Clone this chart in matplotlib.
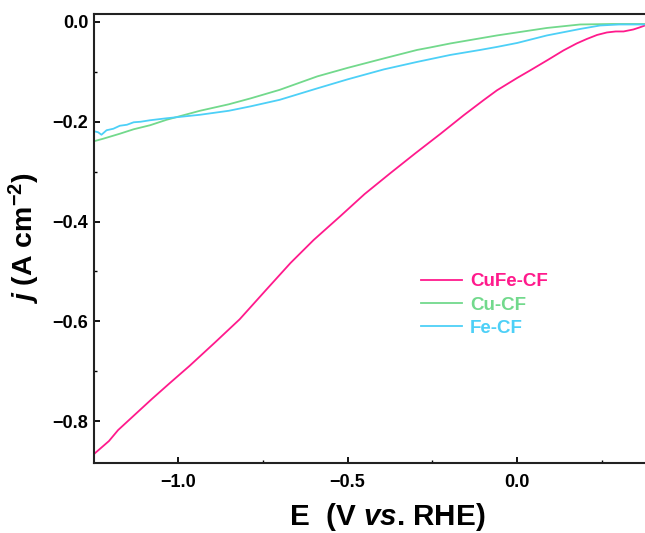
import numpy as np
import matplotlib.pyplot as plt

plt.rcParams['font.family'] = ['Liberation Sans', 'DejaVu Sans']
plt.rcParams['font.weight'] = 'bold'
plt.rcParams['mathtext.fontset'] = 'custom'
plt.rcParams['mathtext.rm'] = 'Liberation Sans:bold'
plt.rcParams['mathtext.it'] = 'Liberation Sans:italic:bold'

# Datos (E en V vs RHE, j en A cm-2)
e_cufe = [-1.247, -1.225, -1.203, -1.176, -1.077, -1.024, -0.965, -0.890, -0.818, -0.740,
          -0.668, -0.600, -0.521, -0.450, -0.374, -0.300, -0.226, -0.158, -0.100, -0.060,
          0.0, 0.038, 0.090, 0.136, 0.175, 0.205, 0.235, 0.264, 0.290, 0.313,
          0.342, 0.360, 0.376]
j_cufe = [-0.866, -0.853, -0.840, -0.818, -0.756, -0.724, -0.689, -0.642, -0.596, -0.537,
          -0.483, -0.437, -0.389, -0.345, -0.303, -0.263, -0.224, -0.187, -0.157, -0.137,
          -0.112, -0.097, -0.076, -0.057, -0.043, -0.034, -0.026, -0.021, -0.019, -0.019,
          -0.015, -0.011, -0.007]

e_cu = [-1.247, -1.22, -1.171, -1.13, -1.082, -1.033, -0.935, -0.85, -0.785, -0.70,
        -0.589, -0.50, -0.393, -0.295, -0.256, -0.197, -0.060, 0.087, 0.185, 0.28,
        0.376]
j_cu = [-0.239, -0.234, -0.224, -0.215, -0.207, -0.196, -0.178, -0.165, -0.153, -0.136,
        -0.109, -0.092, -0.073, -0.056, -0.051, -0.043, -0.027, -0.012, -0.005, -0.004,
        -0.004]

e_fe = [-1.247, -1.235, -1.225, -1.21, -1.19, -1.171, -1.15, -1.13, -1.11, -1.082,
        -1.033, -0.935, -0.85, -0.785, -0.70, -0.589, -0.50, -0.393, -0.295, -0.197,
        -0.109, -0.060, 0.0, 0.087, 0.185, 0.244, 0.30, 0.376]
j_fe = [-0.219, -0.221, -0.226, -0.217, -0.214, -0.208, -0.206, -0.201, -0.200, -0.197,
        -0.193, -0.186, -0.178, -0.169, -0.156, -0.133, -0.115, -0.095, -0.080, -0.066,
        -0.056, -0.050, -0.042, -0.027, -0.014, -0.007, -0.005, -0.005]

nombres = ['CuFe-CF', 'Cu-CF', 'Fe-CF']
colores = ['#FF1A8C', '#72D98C', '#4DD0F7']

fig = plt.figure(figsize=(6.45, 5.33), dpi=100)
ax = fig.add_axes([94 / 645, 1 - 463 / 533, 554 / 645, 449 / 533])

ax.plot(e_cufe, j_cufe, color=colores[0], lw=1.3, label=nombres[0])
ax.plot(e_cu, j_cu, color=colores[1], lw=1.3, label=nombres[1])
ax.plot(e_fe, j_fe, color=colores[2], lw=1.3, label=nombres[2])

ax.set_xlim(-1.247, 0.385)
ax.set_ylim(-0.884, 0.016)
ax.set_xticks([-1.0, -0.5, 0.0])
ax.set_xticks([-0.75, -0.25, 0.25], minor=True)
ax.set_yticks([-0.8, -0.6, -0.4, -0.2, 0.0])
ax.set_yticks([-0.7, -0.5, -0.3, -0.1], minor=True)
ax.xaxis.set_major_formatter(plt.FuncFormatter(lambda v, p: f'{v:.1f}'.replace('-', '\u2212')))
ax.yaxis.set_major_formatter(plt.FuncFormatter(lambda v, p: f'{v:.1f}'.replace('-', '\u2212')))
ax.tick_params(which='both', direction='in')
ax.tick_params(which='major', length=4, width=1.3, labelsize=13)
ax.tick_params(axis='x', which='major', pad=8)
ax.tick_params(axis='y', which='major', pad=4)
ax.tick_params(which='minor', length=2.5, width=1.0)
for s in ax.spines.values():
    s.set_linewidth(1.5)
    s.set_color('#222222')

ax.set_xlabel(r'E  (V $vs$. RHE)', fontsize=21.3, fontweight='bold', labelpad=5)
ax.xaxis.set_label_coords(0.53, -0.084)
ax.xaxis.label.set_va('top')
ax.set_ylabel(r'$j$ (A cm$^{-2}$)', fontsize=20.5, fontweight='bold', labelpad=8)

leg = ax.legend(loc='center left', bbox_to_anchor=(0.590, 0.352), frameon=False,
                fontsize=13.5, handlelength=2.2, handletextpad=0.43, labelspacing=0.33,
                borderpad=0, borderaxespad=0)
for txt, c in zip(leg.get_texts(), colores):
    txt.set_color(c)
    txt.set_fontweight('bold')

fig.savefig('out.png', dpi=100)
